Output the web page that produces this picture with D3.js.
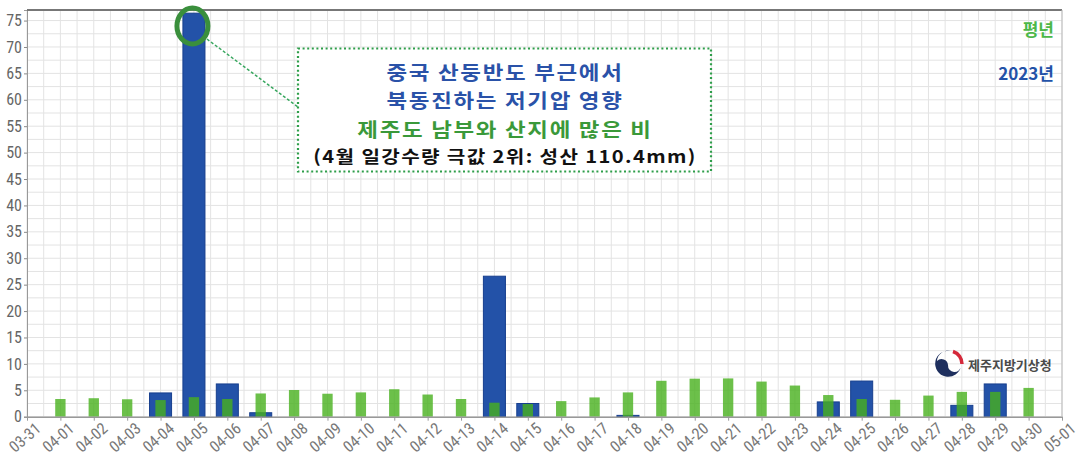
<!DOCTYPE html>
<html><head><meta charset="utf-8">
<script src="https://cdn.jsdelivr.net/npm/d3@7"></script>
<style>
html,body{margin:0;padding:0;background:#fff;overflow:hidden;}
svg{display:block;}
</style></head>
<body>
<svg id="chart" width="1079" height="455"></svg>
<script>
// ---- data ----
const days = ["04-01","04-02","04-03","04-04","04-05","04-06","04-07","04-08","04-09","04-10",
  "04-11","04-12","04-13","04-14","04-15","04-16","04-17","04-18","04-19","04-20",
  "04-21","04-22","04-23","04-24","04-25","04-26","04-27","04-28","04-29","04-30"];
const normalValues = [3.35,3.5,3.3,3.15,3.7,3.35,4.4,5.05,4.35,4.6,
  5.2,4.2,3.35,2.65,2.4,2.95,3.65,4.6,6.8,7.2,
  7.25,6.65,5.9,4.1,3.35,3.2,4.0,4.7,4.7,5.45];
const values2023 = [0,0,0,4.5,76.4,6.2,0.75,0,0,0,
  0,0,0,26.6,2.5,0,0,0.25,0,0,
  0,0,0,2.8,6.75,0,0,2.15,6.2,0];
const yTicks = [0,5,10,15,20,25,30,35,40,45,50,55,60,65,70,75];
const legendLabels = ["평년","2023년"];
const noteLines = ["중국 산둥반도 부근에서","북동진하는 저기압 영향","제주도 남부와 산지에 많은 비","(4월 일강수량 극값 2위: 성산 110.4mm)"];
const agencyName = "제주지방기상청";

// ---- layout ----
const svg = d3.select("#chart");
const L = 27, R = 1062, T = 10, B = 416.7;
const parse = d3.utcParse("%Y-%m-%d");
const dateOf = s => parse("2023-" + s);
const x = d3.scaleUtc().domain([parse("2023-03-31"), parse("2023-05-01")]).range([L, R]);
const y = d3.scaleLinear().domain([0, 77]).range([B, T]);
const dayW = x(parse("2023-04-02")) - x(parse("2023-04-01"));

const COL_BLUE = "#2352a8", COL_BLUE_EDGE = "#173f8e", COL_GREEN = "#47b01d";
const axisFont = "'Liberation Sans Narrow','Roboto Condensed','Arial Narrow','Liberation Sans',sans-serif";
const kFont = "'Noto Sans CJK KR','Noto Sans',sans-serif";

// grid
const g = svg.append("g");
const hGrid = d3.range(0, 77.01, 2.5);
g.selectAll("line.hg").data(hGrid).join("line")
  .attr("x1", L).attr("x2", R).attr("y1", d => y(d)).attr("y2", d => y(d))
  .attr("stroke", "#e3e3e3").attr("stroke-width", 1);
const vGrid = d3.utcHour.every(12).range(parse("2023-03-31"), new Date(Date.UTC(2023,4,1,1)));
g.selectAll("line.vg").data(vGrid).join("line")
  .attr("x1", d => x(d)).attr("x2", d => x(d)).attr("y1", T).attr("y2", B)
  .attr("stroke", "#e3e3e3").attr("stroke-width", 1);

// bars 2023
svg.append("g").selectAll("rect").data(days.map((d,i)=>({d, v: values2023[i]})).filter(e=>e.v>0)).join("rect")
  .attr("x", e => x(dateOf(e.d)) - dayW*0.33)
  .attr("width", dayW*0.66)
  .attr("y", e => y(e.v))
  .attr("height", e => B - y(e.v))
  .attr("fill", COL_BLUE).attr("stroke", COL_BLUE_EDGE).attr("stroke-width", 1);

// bars normal
svg.append("g").selectAll("rect").data(days.map((d,i)=>({d, v: normalValues[i]}))).join("rect")
  .attr("x", e => x(dateOf(e.d)) - dayW*0.155)
  .attr("width", dayW*0.31)
  .attr("y", e => y(e.v))
  .attr("height", e => B - y(e.v))
  .attr("fill", COL_GREEN).attr("fill-opacity", 0.8);

// axes
const yAxis = svg.append("g").attr("transform", `translate(${L},0)`)
  .call(d3.axisLeft(y).tickValues(yTicks).tickSize(3).tickPadding(2));
yAxis.select(".domain").attr("stroke", "#999");
yAxis.selectAll(".tick line").attr("stroke", "#888");
yAxis.selectAll("text").attr("fill", "#666").attr("font-size", 16).attr("font-family", axisFont);

const xTicks = d3.utcDay.range(parse("2023-03-31"), new Date(Date.UTC(2023,4,1,1)));
const xAxis = svg.append("g").attr("transform", `translate(0,${B})`)
  .call(d3.axisBottom(x).tickValues(xTicks).tickFormat(d3.utcFormat("%m-%d")).tickSize(4).tickSizeOuter(0));
xAxis.select(".domain").attr("stroke", "#999").attr("stroke-width", 1.5);
xAxis.selectAll(".tick line").attr("stroke", "#999");
xAxis.selectAll("text").attr("fill", "#777").attr("font-size", 16).attr("font-family", axisFont)
  .attr("text-anchor", "middle").attr("dy", null).attr("y", 0)
  .attr("transform", "translate(1,25) rotate(-41)");

// frame
svg.append("line").attr("x1", L).attr("x2", R).attr("y1", T).attr("y2", T).attr("stroke", "#777").attr("stroke-width", 2);
svg.append("line").attr("x1", R).attr("x2", R).attr("y1", T).attr("y2", B).attr("stroke", "#bbb").attr("stroke-width", 1);

// legend
svg.append("text").attr("x", 1054).attr("y", 36).attr("text-anchor", "end")
  .attr("font-family", kFont).attr("font-weight", 700).attr("font-size", 17).attr("fill", "#4cb848").text(legendLabels[0]);
svg.append("text").attr("x", 1054).attr("y", 80).attr("text-anchor", "end")
  .attr("font-family", kFont).attr("font-weight", 700).attr("font-size", 17).attr("fill", "#2352a8").text(legendLabels[1]);

// annotation
const peakX = x(dateOf("04-05"));
svg.append("line").attr("x1", peakX + 13).attr("y1", 39).attr("x2", 298).attr("y2", 107)
  .attr("stroke", "#3aa860").attr("stroke-width", 1.5).attr("stroke-dasharray", "3,2");
svg.append("ellipse").attr("cx", peakX - 1.5).attr("cy", 26).attr("rx", 15.5).attr("ry", 18)
  .attr("fill", "none").attr("stroke", "#3a8f3c").attr("stroke-width", 5);
svg.append("rect").attr("x", 298).attr("y", 48.5).attr("width", 413).attr("height", 123)
  .attr("fill", "#fff").attr("stroke", "#2e9e4a").attr("stroke-width", 2.2).attr("stroke-dasharray", "2,2.6");
const noteColors = ["#2a52a8","#2a52a8","#3a993a","#111"];
const noteSizes = [19.5,19.5,19.5,17.5];
const noteSpacing = [1.5,1.5,1.5,1.2];
const noteY = [79.5, 108, 136.5, 163];
noteLines.forEach((t,i) => {
  svg.append("text").attr("text-anchor", "middle")
    .attr("transform", `translate(505,${noteY[i]}) scale(1.15,1)`)
    .attr("font-family", kFont).attr("font-weight", 700)
    .attr("font-size", noteSizes[i]).attr("letter-spacing", noteSpacing[i])
    .attr("fill", noteColors[i]).text(t);
});

// agency logo
const lg = svg.append("g").attr("transform", "translate(948,364)");
lg.append("path").attr("d", "M 3 -13 A 13 13 0 1 0 13 2 A 6.5 6.5 0 0 1 0 1 A 6.5 6.5 0 0 0 -11 -3 A 11 11 0 0 1 3 -13 Z")
  .attr("fill", "#1e2f5e");
lg.append("path").attr("d", "M 5 -12.5 A 13 13 0 0 1 14 0")
  .attr("fill", "none").attr("stroke", "#d4283a").attr("stroke-width", 3.5);
svg.append("text").attr("x", 968).attr("y", 369.5).attr("font-family", kFont).attr("font-weight", 700)
  .attr("font-size", 13).attr("fill", "#4a4a4a").text(agencyName);
</script>
</body></html>
